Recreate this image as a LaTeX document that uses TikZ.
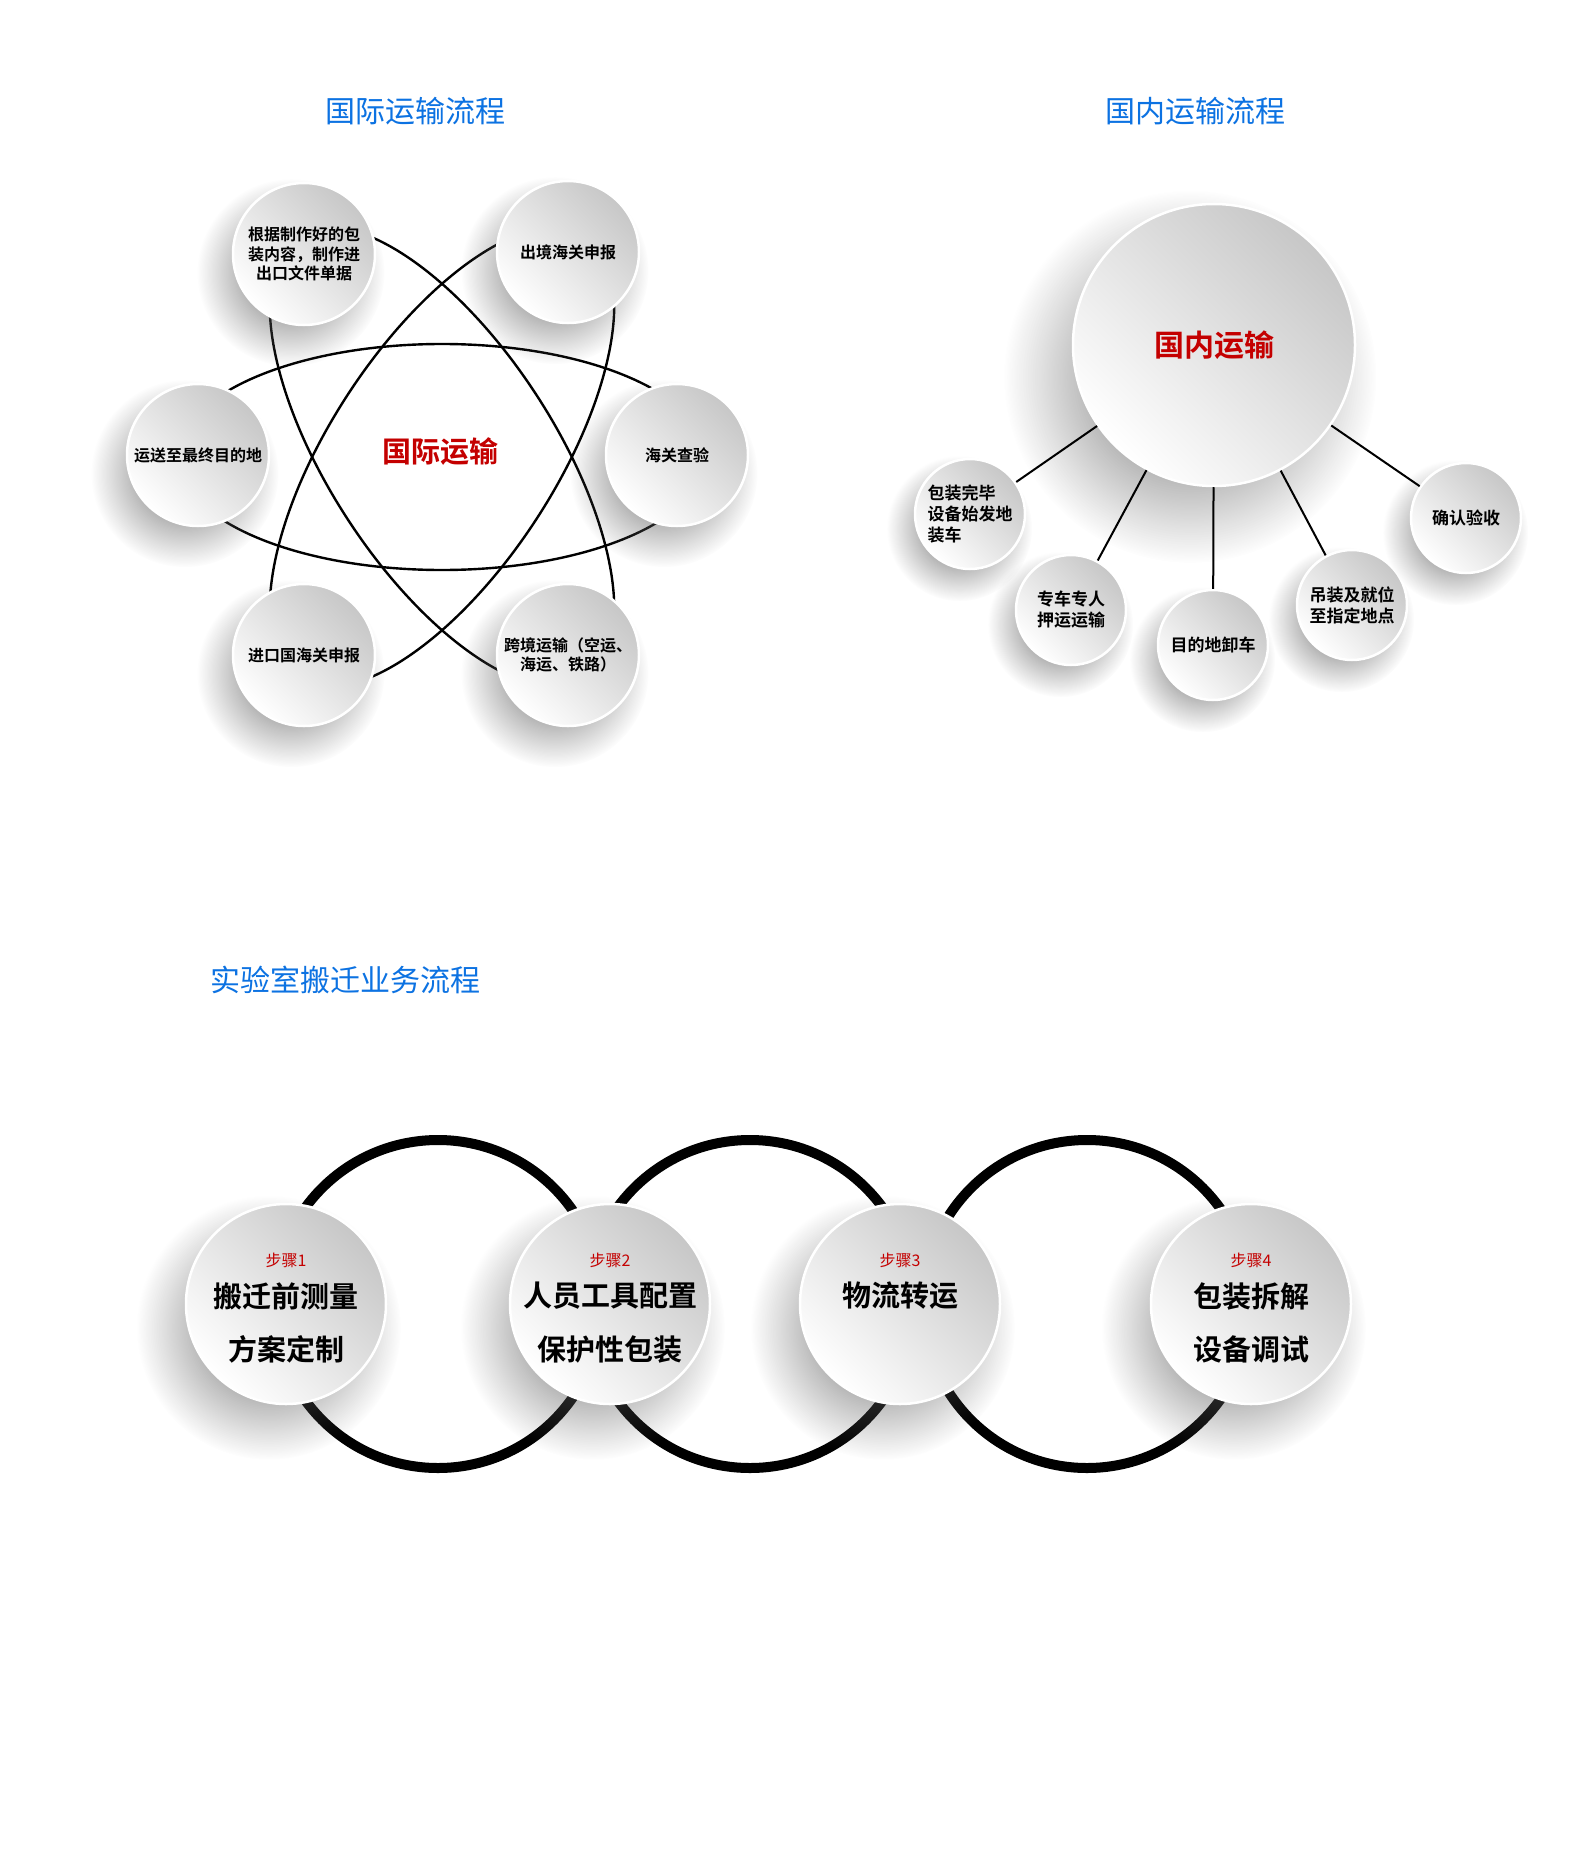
\documentclass[tikz,border=0pt]{standalone}
\usepackage{fontspec}
\setmainfont{Noto Sans CJK SC}[BoldFont=* Bold]
\usepackage{tikz}
\usetikzlibrary{shapes, shadows, fadings, positioning}
\definecolor{titleblue}{RGB}{12,114,226}
\definecolor{hubred}{RGB}{196,0,0}

% 柔和阴影
\pgfdeclareradialshading{ballfadeshade}{\pgfpointorigin}{color(0bp)=(white); color(9bp)=(white); color(16bp)=(black!45); color(25bp)=(black); color(50bp)=(black)}
\pgfdeclarefading{ballfade}{\pgfuseshading{ballfadeshade}}

\tikzset{
  ball/.style={circle, draw=white, line width=2.5pt, inner sep=0pt,
    top color=black!22, bottom color=white, shading angle=-45},
  softshadow/.style 2 args={circular drop shadow={shadow xshift=#1, shadow yshift=#2,
    shadow scale=1.32, opacity=0.6, fill=black!65, path fading=ballfade}},
}

\begin{document}
\begin{tikzpicture}[x=1pt, y=-1pt,
  title/.style={text=titleblue, font=\fontsize{30}{36}\selectfont},
  hub/.style={text=hubred, font=\bfseries\fontsize{29}{34}\selectfont},
  orbit/.style={black, line width=2.4pt},
  link/.style={black, line width=2pt},
  ringline/.style={black, line width=10pt},
  gjball/.style={ball, softshadow={-10pt}{-14pt}, minimum size=142pt, align=center,
    font=\bfseries\fontsize{16}{19.5}\selectfont},
  gnball/.style={ball, softshadow={-8pt}{-11pt}, minimum size=110pt, align=left,
    font=\bfseries\fontsize{17}{21}\selectfont},
  bigball/.style={ball, softshadow={-18pt}{-24pt}, minimum size=282pt},
  stepball/.style={ball, softshadow={-13pt}{-18pt}, minimum size=200pt},
  steptag/.style={text=hubred, font=\fontsize{16}{19}\selectfont},
  stepmain/.style={font=\bfseries\fontsize{29}{34}\selectfont},
]
\useasboundingbox[fill=white] (0,0) rectangle (1594,1867);

% 标题
\node[title] (tgj) at (415,111) {国际运输流程};
\node[title] (tgn) at (1195,111) {国内运输流程};
\node[title] (tsy) at (345,980) {实验室搬迁业务流程};

% 国际运输
\coordinate (gj) at (442,457);
\draw[orbit] (gj) ellipse [x radius=264, y radius=113];
\draw[orbit, rotate around={57:(gj)}] (gj) ellipse [x radius=264, y radius=113];
\draw[orbit, rotate around={-57:(gj)}] (gj) ellipse [x radius=264, y radius=113];
\node[gjball] (g1) at (304,254) {根据制作好的包\\装内容，制作进\\出口文件单据};
\node[gjball] (g2) at (568,252) {出境海关申报};
\node[gjball] (g3) at (198,455) {运送至最终目的地};
\node[gjball] (g4) at (677,455) {海关查验};
\node[gjball] (g5) at (304,655) {进口国海关申报};
\node[gjball] (g6) at (568,655) {跨境运输（空运、\\海运、铁路）};
\node[hub] (gjt) at (440,452) {国际运输};

% 国内运输
\node[bigball, hub, font=\bfseries\fontsize{30}{36}\selectfont] (d0) at (1214,345) {国内运输};
\node[gnball] (d1) at (970,514) {包装完毕\\设备始发地\\装车};
\node[gnball] (d2) at (1071,610) {专车专人\\押运运输};
\node[gnball] (d3) at (1213,645) {目的地卸车};
\node[gnball] (d4) at (1352,605) {吊装及就位\\至指定地点};
\node[gnball] (d5) at (1466,518) {确认验收};
\foreach \i in {1,...,5}
  \draw[link] (d0) -- (d\i);

% 实验室搬迁
\coordinate (r1) at (438,1304);
\coordinate (r2) at (750,1304);
\coordinate (r3) at (1087,1304);
\foreach \r in {r1,r2,r3}
  \draw[ringline] (\r) circle [radius=164];
\node[stepball] (s1) at (286,1304) {};
\node[stepball] (s2) at (610,1304) {};
\node[stepball] (s3) at (900,1304) {};
\node[stepball] (s4) at (1251,1304) {};
\node[steptag] (k1) at (286,1260) {步骤1};
\node[steptag] (k2) at (610,1260) {步骤2};
\node[steptag] (k3) at (900,1260) {步骤3};
\node[steptag] (k4) at (1251,1260) {步骤4};
\node[stepmain] (a1) at (286,1296) {搬迁前测量};
\node[stepmain] (b1) at (286,1349) {方案定制};
\node[stepmain] (a2) at (610,1296) {人员工具配置};
\node[stepmain] (b2) at (610,1349) {保护性包装};
\node[stepmain] (a3) at (900,1296) {物流转运};
\node[stepmain] (a4) at (1251,1296) {包装拆解};
\node[stepmain] (b4) at (1251,1349) {设备调试};
\end{tikzpicture}
\end{document}
